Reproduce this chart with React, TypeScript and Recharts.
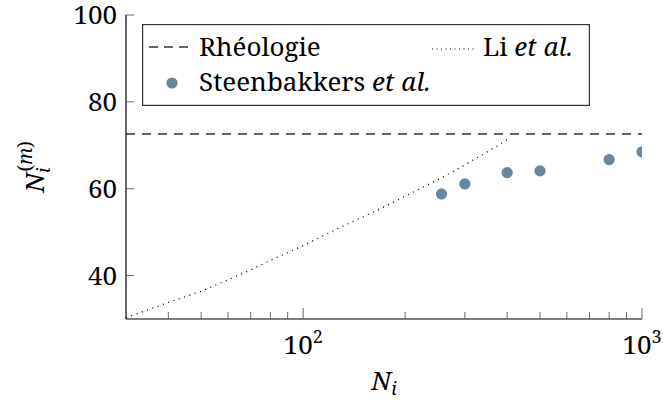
import { ComposedChart, Line, Scatter, XAxis, YAxis, ReferenceLine, Legend } from 'recharts';

const FONT = 'Noto Serif, Tinos, FreeSerif, Nimbus Roman, Liberation Serif, DejaVu Serif, serif';
const DOT = '#67879f';
const txt = { fontFamily: FONT };

const xTicks = [40, 50, 60, 70, 80, 90, 100, 200, 300, 400, 500, 600, 700, 800, 900, 1000];
const yTicks = [40, 60, 80, 100];
const rheoValue = 72.6;

// Li et al. (dotted curve)
const liN = [30, 40, 50, 60, 70, 80, 100, 128, 170, 256, 300, 372, 400];
const liY = [30.3, 33.8, 36.4, 39, 41.3, 43.5, 46.9, 51, 55.5, 62.5, 65.5, 69.7, 71.3];

// Steenbakkers et al. (dots)
const steenN = [256, 300, 400, 500, 800, 1000];
const steenY = [58.8, 61.1, 63.7, 64.1, 66.7, 68.5];

const liData = liN.map((x, i) => ({ x, y: liY[i] }));
const steenData = steenN.map((x, i) => ({ x, y: steenY[i] }));

const exp: Record<number, string> = { 100: '2', 1000: '3' };

function BottomTick({ x, y, payload }: any) {
  const v = payload.value;
  const major = v === 100 || v === 1000;
  return (
    <g>
      <line x1={x} y1={y} x2={x} y2={y - (major ? 11 : 7)} stroke="#444" strokeWidth={0.8} />
      {major && (
        <text x={x} y={y + 35} textAnchor="middle" fontSize={26} style={txt} fill="#000">
          10<tspan dy={-11} fontSize={18}>{exp[v]}</tspan>
        </text>
      )}
    </g>
  );
}

function TopTick({ x, y, payload }: any) {
  const major = payload.value === 100 || payload.value === 1000;
  return <line x1={x} y1={y} x2={x} y2={y + (major ? 11 : 7)} stroke="#444" strokeWidth={0.8} />;
}

function LeftTick({ x, y, payload }: any) {
  return (
    <g>
      <line x1={x} y1={y} x2={x + 8} y2={y} stroke="#444" strokeWidth={0.8} />
      <text x={x - 9} y={y + 9} textAnchor="end" fontSize={26} style={txt} fill="#000">
        {payload.value}
      </text>
    </g>
  );
}

function RightTick({ x, y }: any) {
  return <line x1={x} y1={y} x2={x - 8} y2={y} stroke="#444" strokeWidth={0.8} />;
}

function XTitle({ viewBox }: any) {
  const cx = viewBox.x + viewBox.width / 2;
  return (
    <text x={cx} y={viewBox.y + 71} textAnchor="middle" fontSize={26} style={txt} fill="#000">
      <tspan fontStyle="italic">N</tspan>
      <tspan fontStyle="italic" fontSize={18} dy={5}>i</tspan>
    </text>
  );
}

function YTitle({ viewBox }: any) {
  const cy = viewBox.y + viewBox.height / 2;
  return (
    <text
      transform={`translate(44, ${cy}) rotate(-90)`}
      textAnchor="middle"
      fontSize={26}
      style={txt}
      fill="#000"
    >
      <tspan fontStyle="italic">N</tspan>
      <tspan fontStyle="italic" fontSize={18} dy={6}>i</tspan>
      <tspan fontSize={19} dx={-4} dy={-18}>(</tspan>
      <tspan fontSize={19} fontStyle="italic">m</tspan>
      <tspan fontSize={19}>)</tspan>
    </text>
  );
}

function LegendBox() {
  return (
    <svg width={448} height={82} style={{ display: 'block', fontFamily: FONT }}>
      <rect x={0.6} y={0.6} width={446.8} height={80.8} fill="#fff" stroke="#333" strokeWidth={1.2} />
      <line x1={7} y1={23} x2={46} y2={23} stroke="#333" strokeWidth={1.3} strokeDasharray="9 6" />
      <text x={57} y={32} fontSize={26} style={txt} fill="#000">Rhéologie</text>
      <line x1={290} y1={25} x2={335} y2={25} stroke="#000" strokeWidth={1.2} strokeDasharray="1 3.5" />
      <text x={341} y={32} fontSize={26} style={txt} fill="#000">
        Li <tspan fontStyle="italic">et al.</tspan>
      </text>
      <circle cx={30} cy={59} r={5.6} fill={DOT} />
      <text x={57} y={67} fontSize={26} style={txt} fill="#000">
        Steenbakkers <tspan fontStyle="italic">et al.</tspan>
      </text>
    </svg>
  );
}

export default function App() {
  return (
    <div style={{ position: 'absolute', left: 0, top: 0, background: '#fff', fontFamily: FONT }}>
      <ComposedChart width={663} height={403} margin={{ top: 15, right: 21, bottom: 0, left: 0 }} style={txt}>
        <XAxis
          dataKey="x"
          type="number"
          scale="log"
          domain={[30, 1000]}
          allowDataOverflow
          ticks={xTicks}
          interval={0}
          height={84}
          tickSize={0}
          tickMargin={0}
          tick={<BottomTick />}
          axisLine={{ stroke: '#000', strokeWidth: 1.2 }}
          label={<XTitle />}
        />
        <XAxis
          xAxisId="top"
          orientation="top"
          type="number"
          scale="log"
          domain={[30, 1000]}
          allowDataOverflow
          ticks={xTicks}
          interval={0}
          height={0}
          tickSize={0}
          tickMargin={0}
          tick={<TopTick />}
          axisLine={{ stroke: '#000', strokeWidth: 1.2 }}
        />
        <YAxis
          type="number"
          domain={[30, 100]}
          allowDataOverflow
          ticks={yTicks}
          interval={0}
          width={126}
          tickSize={0}
          tickMargin={0}
          tick={<LeftTick />}
          axisLine={{ stroke: '#000', strokeWidth: 1.2 }}
          label={<YTitle />}
        />
        <YAxis
          yAxisId="right"
          orientation="right"
          type="number"
          domain={[30, 100]}
          allowDataOverflow
          ticks={yTicks}
          interval={0}
          width={0}
          tickSize={0}
          tickMargin={0}
          tick={<RightTick />}
          axisLine={{ stroke: '#000', strokeWidth: 1.2 }}
        />
        <ReferenceLine y={rheoValue} stroke="#333" strokeWidth={1.3} strokeDasharray="9 7" />
        <Line
          data={liData}
          dataKey="y"
          type="linear"
          stroke="#000"
          strokeWidth={1.3}
          strokeDasharray="1 4.6"
          dot={false}
          activeDot={false}
          isAnimationActive={false}
        />
        <Scatter
          data={steenData}
          dataKey="y"
          fill={DOT}
          shape={(p: any) => <circle cx={p.cx} cy={p.cy} r={5.6} fill={DOT} />}
          isAnimationActive={false}
        />
        <Legend
          layout="vertical"
          align="center"
          verticalAlign="middle"
          content={() => <LegendBox />}
          wrapperStyle={{ position: 'absolute', left: 142, top: 24, width: 448, height: 82 }}
        />
      </ComposedChart>
    </div>
  );
}
